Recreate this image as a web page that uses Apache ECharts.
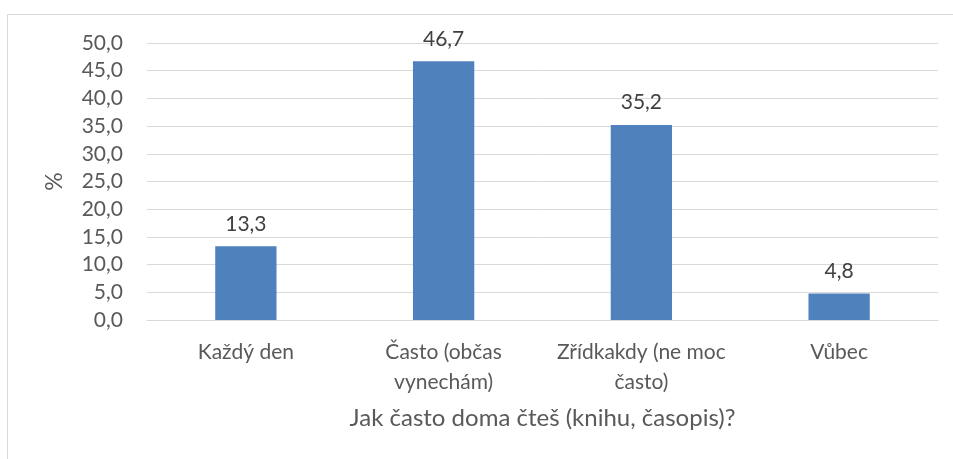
<!DOCTYPE html>
<html><head><meta charset="utf-8">
<script src="https://cdn.jsdelivr.net/npm/echarts@6/dist/echarts.min.js"></script>
<style>html,body{margin:0;padding:0;background:#fff}#c{width:953px;height:459px}</style>
</head><body><div id="c"></div>
<script>
const categories = ["Každý den", "Často (občas\nvynechám)", "Zřídkakdy (ne moc\nčasto)", "Vůbec"];
const values = [13.3, 46.7, 35.2, 4.8];
const yTicks = { min: 0, max: 50, interval: 5 };
const xTitle = "Jak často doma čteš (knihu, časopis)?";
const yTitle = "%";

const font = "Lato, 'Open Sans', sans-serif";
const chart = echarts.init(document.getElementById('c'));
chart.setOption({
  animation: false,
  grid: { left: 147, right: 15, top: 43, bottom: 139, containLabel: false },
  graphic: [{
    type: 'rect', shape: { x: 7.5, y: 14.5, width: 1000, height: 500 },
    style: { fill: 'none', stroke: '#d9d9d9', lineWidth: 1 }, silent: true
  }],
  xAxis: {
    type: 'category', data: categories,
    axisLine: { lineStyle: { color: '#d9d9d9', width: 1 } },
    axisTick: { show: false },
    axisLabel: { interval: 0, hideOverlap: false, color: '#595959', fontFamily: font, fontSize: 21, margin: 17, lineHeight: 30 },
    name: xTitle, nameLocation: 'middle', nameGap: 86,
    nameTextStyle: { color: '#595959', fontFamily: font, fontSize: 24 }
  },
  yAxis: {
    type: 'value', min: yTicks.min, max: yTicks.max, interval: yTicks.interval,
    axisLine: { show: false }, axisTick: { show: false },
    splitLine: { lineStyle: { color: '#d9d9d9', width: 1 } },
    axisLabel: { color: '#595959', fontFamily: font, fontSize: 21, margin: 24,
      formatter: v => v.toFixed(1).replace('.', ',') },
    name: yTitle, nameLocation: 'middle', nameGap: 81, nameRotate: 90,
    nameTextStyle: { color: '#595959', fontFamily: font, fontSize: 23 }
  },
  series: [{
    type: 'bar', data: values, barWidth: '31%',
    itemStyle: { color: '#4f81bd' },
    label: { show: true, position: 'top', distance: 12, color: '#404040', fontFamily: font, fontSize: 21,
      formatter: p => p.value.toFixed(1).replace('.', ',') }
  }]
});
</script></body></html>
